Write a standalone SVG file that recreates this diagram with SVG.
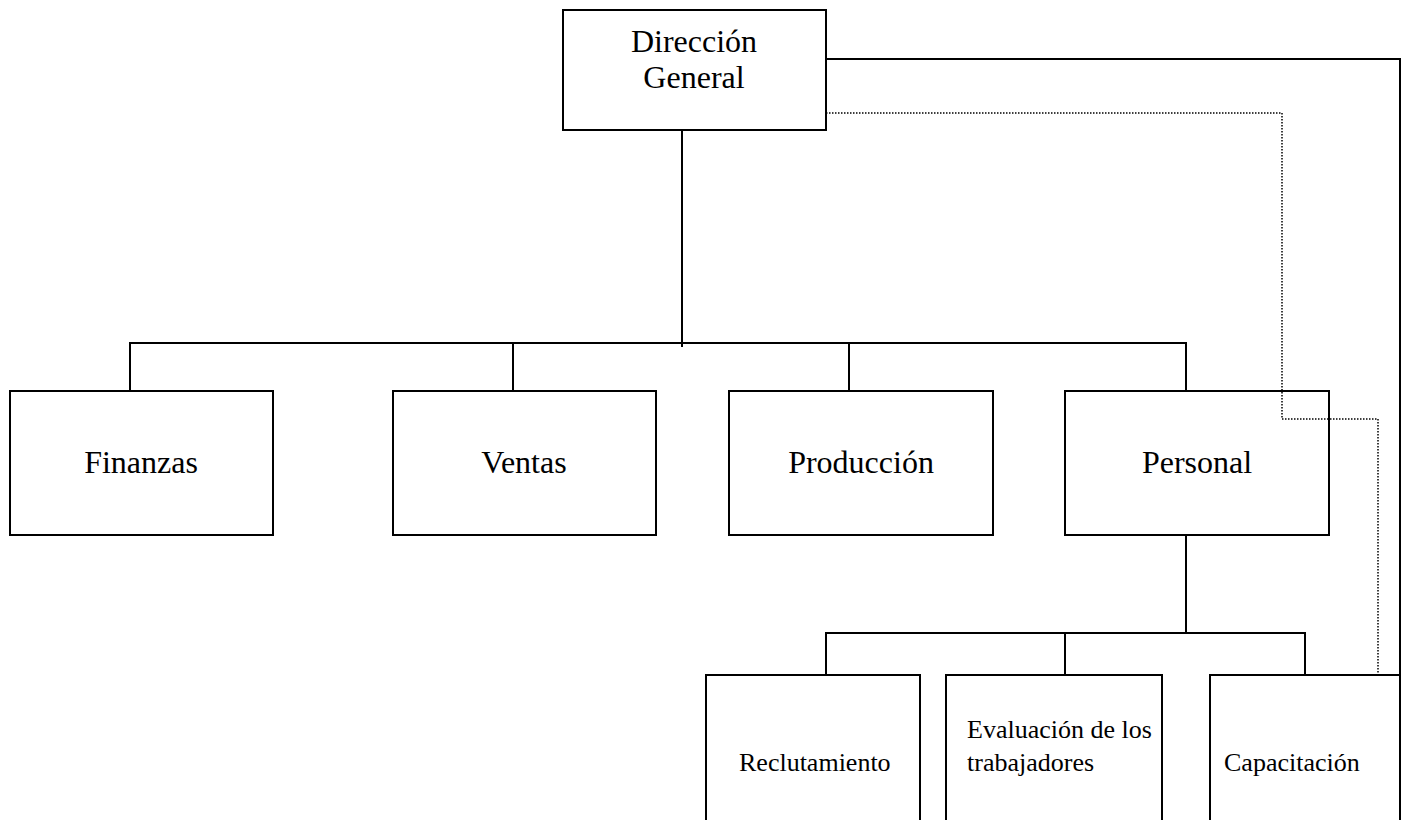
<svg xmlns="http://www.w3.org/2000/svg" width="1403" height="820" viewBox="0 0 1403 820">
<style>
.box{fill:#fff;stroke:#000;stroke-width:2}
.ln{fill:none;stroke:#000;stroke-width:2}
.dot{fill:none;stroke:#000;stroke-width:1.5;stroke-dasharray:1.5 1.5}
.t{font-family:"Liberation Serif","Times New Roman",serif;fill:#000}
.big{font-size:32px;text-anchor:middle}
.sm{font-size:26px}
</style>
<rect width="1403" height="820" fill="#fff"/>
<g id="direccion">
<rect class="box" x="563" y="10" width="263" height="120"/>
<text class="t big" x="694" y="52">Dirección</text>
<text class="t big" x="694" y="88">General</text>
</g>
<g id="finanzas">
<rect class="box" x="10" y="391" width="263" height="144"/>
<text class="t big" x="141" y="473">Finanzas</text>
</g>
<g id="ventas">
<rect class="box" x="393" y="391" width="263" height="144"/>
<text class="t big" x="524" y="473">Ventas</text>
</g>
<g id="produccion">
<rect class="box" x="729" y="391" width="264" height="144"/>
<text class="t big" x="861" y="473">Producción</text>
</g>
<g id="personal">
<rect class="box" x="1065" y="391" width="264" height="144"/>
<text class="t big" x="1197" y="473">Personal</text>
</g>
<g id="reclutamiento">
<rect class="box" x="706" y="675" width="214" height="170"/>
<text class="t sm" x="739" y="771">Reclutamiento</text>
</g>
<g id="evaluacion">
<rect class="box" x="946" y="675" width="216" height="170"/>
<text class="t sm" x="967" y="738">Evaluación de los</text>
<text class="t sm" x="967" y="771">trabajadores</text>
</g>
<g id="capacitacion">
<rect class="box" x="1210" y="675" width="190" height="170"/>
<text class="t sm" x="1224" y="771">Capacitación</text>
</g>
<g id="connectors">
<path class="ln" d="M826 59H1400V820"/>
<path class="dot" d="M826 113H1282V419H1378V675"/>
<path class="ln" d="M682 130V347"/>
<path class="ln" d="M130 391V343H1186V391M513 343V391M849 343V391"/>
<path class="ln" d="M1186 535V633"/>
<path class="ln" d="M826 675V633H1305V675M1065 633V675"/>
</g>
</svg>
